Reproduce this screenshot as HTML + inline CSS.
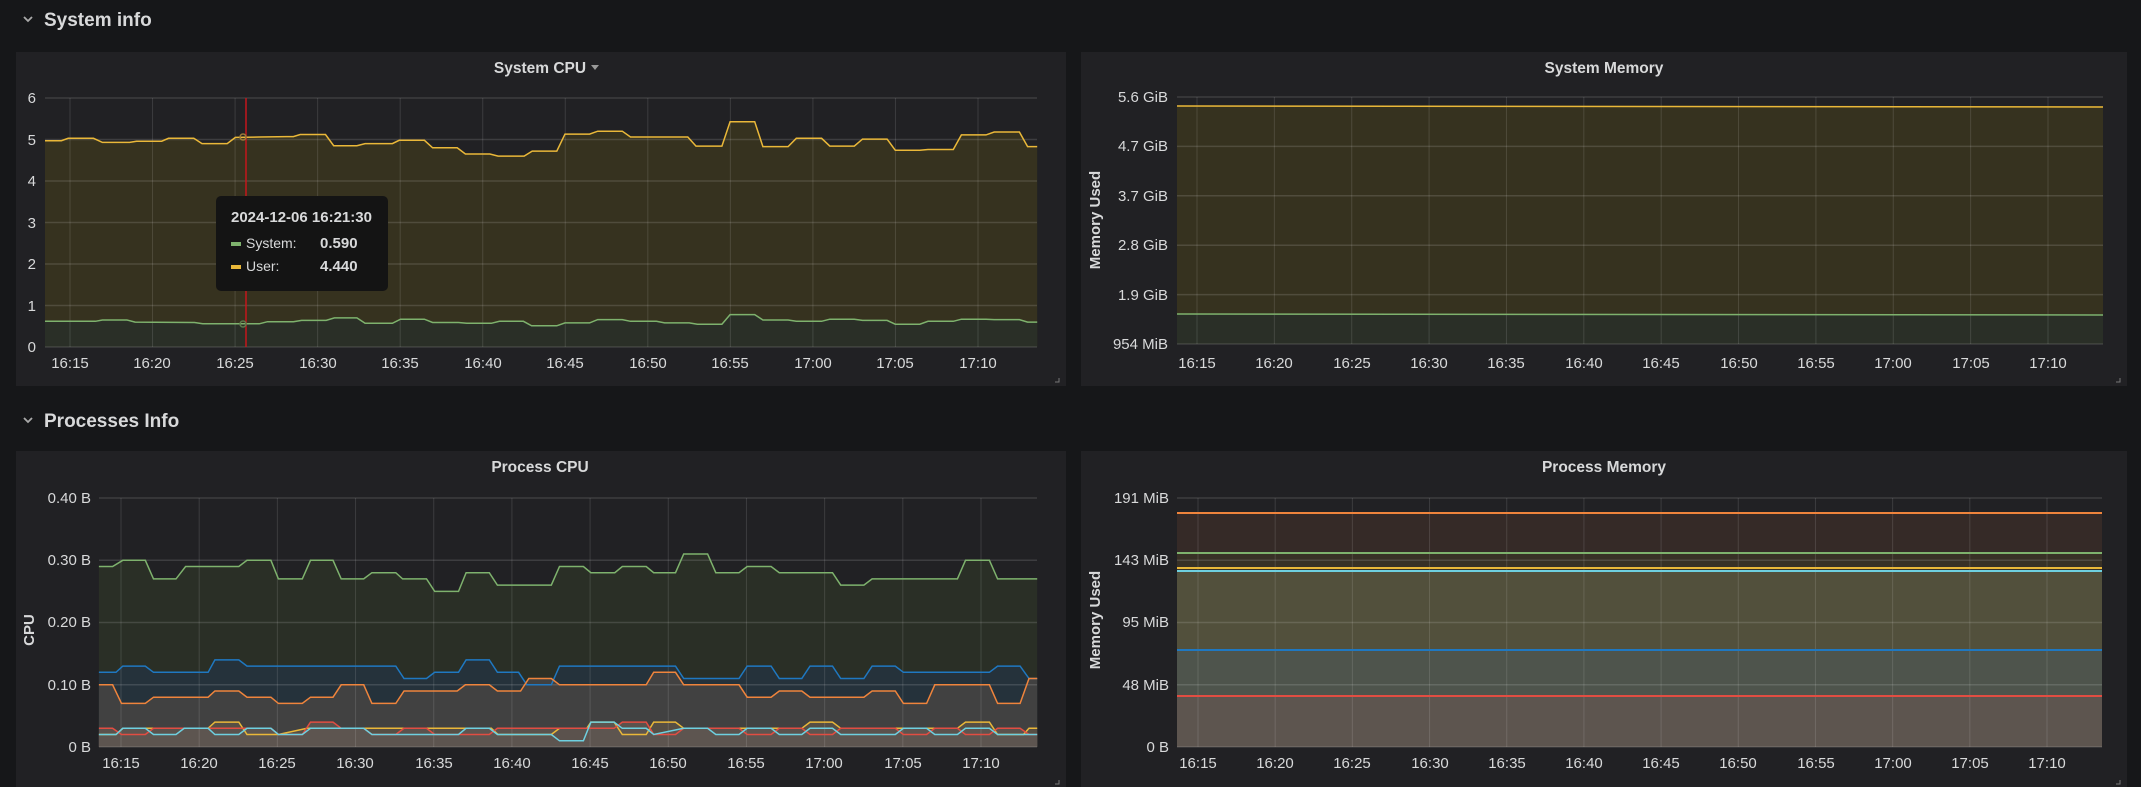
<!DOCTYPE html>
<html><head><meta charset="utf-8">
<style>
html,body{margin:0;padding:0;background:#161719;}
body{width:2141px;height:787px;overflow:hidden;position:relative;font-family:"Liberation Sans",sans-serif;}
svg{position:absolute;left:0;top:0;}
text{font-family:"Liberation Sans",sans-serif;fill:#d8d9da;}
.t{font-size:15px;}
.ttl{font-size:15.5px;font-weight:bold;}
.sec{font-size:19px;font-weight:bold;}
</style></head>
<body>
<svg id="s" width="2141" height="787" viewBox="0 0 2141 787">
<rect x="16" y="52" width="1050" height="334" fill="#212124"/>
<rect x="1081" y="52" width="1046" height="334" fill="#212124"/>
<rect x="16" y="451" width="1050" height="340" fill="#212124"/>
<rect x="1081" y="451" width="1046" height="340" fill="#212124"/>
<g id="g"></g>
<path d="M24 17 l4 4 l4 -4" stroke="#aaa" stroke-width="1.8" fill="none"/>
<text class="sec" x="44" y="26">System info</text>
<path d="M24 418 l4 4 l4 -4" stroke="#aaa" stroke-width="1.8" fill="none"/>
<text class="sec" x="44" y="427">Processes Info</text>
<text class="ttl" x="540" y="73" text-anchor="middle">System CPU</text>
<path d="M591 65 l8 0 l-4 5z" fill="#999"/>
<text class="ttl" x="1604" y="73" text-anchor="middle">System Memory</text>
<text class="ttl" x="540" y="472" text-anchor="middle">Process CPU</text>
<text class="ttl" x="1604" y="472" text-anchor="middle">Process Memory</text>
<g class="t" text-anchor="end">
<text x="36" y="103">6</text><text x="36" y="145">5</text><text x="36" y="186">4</text><text x="36" y="228">3</text><text x="36" y="269">2</text><text x="36" y="311">1</text><text x="36" y="352">0</text>
<text x="1168" y="102">5.6 GiB</text><text x="1168" y="151">4.7 GiB</text><text x="1168" y="201">3.7 GiB</text><text x="1168" y="250">2.8 GiB</text><text x="1168" y="300">1.9 GiB</text><text x="1168" y="349">954 MiB</text>
<text x="91" y="503">0.40 B</text><text x="91" y="565">0.30 B</text><text x="91" y="627">0.20 B</text><text x="91" y="690">0.10 B</text><text x="91" y="752">0 B</text>
<text x="1169" y="503">191 MiB</text><text x="1169" y="565">143 MiB</text><text x="1169" y="627">95 MiB</text><text x="1169" y="690">48 MiB</text><text x="1169" y="752">0 B</text>
</g>
<g class="t" text-anchor="middle">
<text x="70" y="368">16:15</text><text x="152" y="368">16:20</text><text x="235" y="368">16:25</text><text x="318" y="368">16:30</text><text x="400" y="368">16:35</text><text x="483" y="368">16:40</text><text x="565" y="368">16:45</text><text x="648" y="368">16:50</text><text x="730" y="368">16:55</text><text x="813" y="368">17:00</text><text x="895" y="368">17:05</text><text x="978" y="368">17:10</text>
<text x="1197" y="368">16:15</text><text x="1274" y="368">16:20</text><text x="1352" y="368">16:25</text><text x="1429" y="368">16:30</text><text x="1506" y="368">16:35</text><text x="1584" y="368">16:40</text><text x="1661" y="368">16:45</text><text x="1739" y="368">16:50</text><text x="1816" y="368">16:55</text><text x="1893" y="368">17:00</text><text x="1971" y="368">17:05</text><text x="2048" y="368">17:10</text>
<text x="121" y="768">16:15</text><text x="199" y="768">16:20</text><text x="277" y="768">16:25</text><text x="355" y="768">16:30</text><text x="434" y="768">16:35</text><text x="512" y="768">16:40</text><text x="590" y="768">16:45</text><text x="668" y="768">16:50</text><text x="746" y="768">16:55</text><text x="824" y="768">17:00</text><text x="903" y="768">17:05</text><text x="981" y="768">17:10</text>
<text x="1198" y="768">16:15</text><text x="1275" y="768">16:20</text><text x="1352" y="768">16:25</text><text x="1430" y="768">16:30</text><text x="1507" y="768">16:35</text><text x="1584" y="768">16:40</text><text x="1661" y="768">16:45</text><text x="1738" y="768">16:50</text><text x="1816" y="768">16:55</text><text x="1893" y="768">17:00</text><text x="1970" y="768">17:05</text><text x="2047" y="768">17:10</text>
</g>
<text class="t" font-weight="bold" transform="translate(1100,220) rotate(-90)" text-anchor="middle" fill="#c8c9ca">Memory Used</text>
<text class="t" font-weight="bold" transform="translate(34,630) rotate(-90)" text-anchor="middle" fill="#c8c9ca">CPU</text>
<text class="t" font-weight="bold" transform="translate(1100,620) rotate(-90)" text-anchor="middle" fill="#c8c9ca">Memory Used</text>
<line x1="246" y1="98" x2="246" y2="347" stroke="#c4161c" stroke-width="1.5"/>
<circle cx="243" cy="137" r="3" fill="none" stroke="#9a7a3a" stroke-width="1.5"/>
<circle cx="243" cy="324" r="3" fill="none" stroke="#5e7a4c" stroke-width="1.5"/>
<rect x="216" y="196" width="172" height="95" rx="5" fill="#141414"/>
<text x="231" y="222" font-size="15" font-weight="bold">2024-12-06 16:21:30</text>
<rect x="231" y="242" width="10" height="4" fill="#7eb26d"/>
<text x="246" y="248" font-size="14">System:</text>
<text x="320" y="248" font-size="15" font-weight="bold">0.590</text>
<rect x="231" y="265" width="10" height="4" fill="#eab839"/>
<text x="246" y="271" font-size="14">User:</text>
<text x="320" y="271" font-size="15" font-weight="bold">4.440</text>
<path d="M1059 378 v4 h-4 M2120 378 v4 h-4 M1059 780 v4 h-4 M2120 780 v4 h-4" stroke="#777" fill="none"/>
</svg>
<script>
var g=document.getElementById('g');var NS='http://www.w3.org/2000/svg';
function el(n,a){var e=document.createElementNS(NS,n);for(var k in a)e.setAttribute(k,a[k]);g.appendChild(e);return e;}
function grid(x0,x1,y0,y1,ys,xs){ys.forEach(function(y){el('line',{x1:x0,x2:x1,y1:y,y2:y,stroke:'rgba(255,255,255,0.13)','stroke-width':1.5});});
xs.forEach(function(x){el('line',{x1:x,x2:x,y1:y0,y2:y1,stroke:'rgba(255,255,255,0.12)','stroke-width':1});});}
function series(pts,sx,ox,vy,base,col,fill){var d='';pts.forEach(function(p,i){d+=(i?'L':'M')+(p[0]/sx+ox).toFixed(1)+' '+vy(p[1]).toFixed(1);});
var f=d+'L'+(pts[pts.length-1][0]/sx+ox).toFixed(1)+' '+base+'L'+(pts[0][0]/sx+ox).toFixed(1)+' '+base+'Z';
if(fill)el('path',{d:f,fill:fill});return [d,col];}
function P(a){var r=[];for(var i=0;i<a.length;i+=2)r.push([a[i],a[i+1]]);return r;}
var SX=1.4655;
function seq(a,b,n){var r=[];for(var i=0;i<n;i++)r.push(a+(b-a)*i/(n-1));return r;}
var vy1=function(v){return 347-v*41.5;};
var user=P([66,4.97,90,4.97,100,5.03,137,5.03,150,4.93,190,4.93,200,4.96,237,4.96,247,5.03,284,5.03,296,4.9,333,4.9,345,5.05,380,5.06,420,5.07,430,5.07,440,5.12,477,5.12,489,4.85,523,4.85,535,4.9,575,4.9,585,4.98,622,4.98,634,4.8,670,4.8,682,4.65,718,4.65,730,4.6,768,4.6,780,4.72,816,4.72,828,5.13,864,5.13,876,5.2,912,5.2,924,5.06,1008,5.06,1020,4.84,1058,4.84,1070,5.43,1106,5.43,1118,4.83,1155,4.83,1167,5.03,1204,5.03,1216,4.84,1252,4.84,1264,5.01,1300,5.01,1312,4.74,1348,4.74,1360,4.76,1397,4.76,1409,5.11,1445,5.11,1457,5.18,1494,5.18,1506,4.83,1520,4.83]);
var sys=P([66,.62,140,.62,150,.65,186,.65,198,.6,285,.59,297,.56,346,.56,380,.56,392,.61,430,.61,442,.64,478,.64,490,.7,523,.7,535,.57,575,.57,587,.67,622,.67,634,.59,672,.59,684,.57,720,.57,732,.62,767,.62,779,.51,816,.51,828,.58,864,.58,876,.66,912,.66,924,.62,962,.62,974,.58,1010,.58,1022,.55,1058,.55,1070,.78,1106,.78,1118,.65,1155,.65,1167,.62,1204,.62,1216,.67,1252,.67,1264,.64,1300,.64,1312,.55,1348,.55,1360,.62,1397,.62,1409,.67,1445,.67,1457,.66,1494,.66,1506,.6,1520,.6]);
var L=[];
L.push(series(user,SX,0,vy1,347,'#eab839','#36321f'));
L.push(series(sys,SX,0,vy1,347,'#7eb26d','#2a2f27'));
grid(45,1037,98,347,seq(98,347,7),seq(70,978,12));
L.forEach(function(l){el('path',{d:l[0],stroke:l[1],'stroke-width':1.5,fill:'none'});});
el('rect',{x:1177,y:106,width:926,height:238,fill:'#36321f'});
el('rect',{x:1177,y:314,width:926,height:30,fill:'#2a2f27'});
grid(1177,2103,97,344,seq(97,344,6),seq(1197,2048,12));
el('line',{x1:1177,x2:2103,y1:106,y2:107,stroke:'#eab839','stroke-width':1.5});
el('line',{x1:1177,x2:2103,y1:314,y2:315,stroke:'#7eb26d','stroke-width':1.5});
var vy3=function(v){return 747-v*622.5;};var b3=747;
var green=P([145,.29,165,.29,180,.30,213,.30,225,.27,258,.27,272,.29,350,.29,362,.30,397,.30,408,.27,443,.27,455,.30,488,.30,500,.27,533,.27,545,.28,580,.28,590,.27,625,.27,637,.25,672,.25,683,.28,717,.28,729,.26,808,.26,820,.29,855,.29,866,.28,901,.28,912,.29,947,.29,958,.28,990,.28,1002,.31,1037,.31,1049,.28,1083,.28,1095,.29,1130,.29,1142,.28,1220,.28,1232,.26,1266,.26,1278,.27,1403,.27,1415,.30,1450,.30,1462,.27,1520,.27]);
var blue=P([145,.12,170,.12,180,.13,213,.13,225,.12,305,.12,315,.14,350,.14,362,.13,580,.13,592,.11,625,.11,637,.12,672,.12,683,.14,717,.14,729,.12,760,.12,772,.10,808,.10,820,.13,990,.13,1002,.11,1083,.11,1095,.13,1130,.13,1142,.11,1175,.11,1187,.13,1220,.13,1232,.11,1266,.11,1278,.13,1312,.13,1324,.12,1450,.12,1462,.13,1495,.13,1508,.11,1520,.11]);
var orange=P([145,.10,165,.10,178,.07,213,.07,225,.08,305,.08,315,.09,350,.09,362,.08,397,.08,408,.07,443,.07,455,.08,488,.08,500,.10,533,.10,545,.07,580,.07,592,.09,670,.09,682,.10,717,.10,729,.09,763,.09,775,.11,808,.11,820,.10,947,.10,958,.12,990,.12,1002,.10,1083,.10,1095,.08,1130,.08,1142,.09,1175,.09,1187,.08,1266,.08,1278,.09,1312,.09,1324,.07,1358,.07,1370,.10,1450,.10,1462,.07,1495,.07,1508,.11,1520,.11]);
var yel=P([145,.02,170,.02,180,.03,305,.03,315,.04,350,.04,362,.02,397,.02,408,.02,450,.03,720,.03,730,.02,808,.02,820,.03,860,.03,866,.04,900,.04,912,.02,947,.02,958,.04,990,.04,1002,.03,1175,.03,1187,.04,1220,.04,1232,.03,1403,.03,1415,.04,1450,.04,1462,.02,1500,.02,1508,.03,1520,.03]);
var red=P([145,.03,165,.03,178,.02,213,.02,225,.03,397,.03,408,.02,443,.02,455,.04,488,.04,500,.03,533,.03,545,.02,580,.02,592,.03,625,.03,637,.02,717,.02,729,.03,900,.03,912,.04,947,.04,958,.02,990,.02,1002,.03,1083,.03,1095,.02,1130,.02,1142,.03,1175,.03,1187,.02,1220,.02,1232,.03,1312,.03,1324,.02,1358,.02,1370,.03,1403,.03,1415,.02,1450,.02,1462,.03,1495,.03,1508,.02,1520,.02]);
var cy=P([145,.02,170,.02,180,.03,213,.03,225,.02,258,.02,270,.03,305,.03,315,.02,350,.02,362,.03,397,.03,408,.02,443,.02,455,.03,533,.03,545,.02,672,.02,683,.03,717,.03,729,.02,808,.02,820,.01,855,.01,866,.04,900,.04,912,.03,947,.03,958,.02,1002,.03,1037,.03,1049,.02,1083,.02,1095,.03,1130,.03,1142,.02,1175,.02,1187,.03,1220,.03,1232,.02,1312,.02,1324,.03,1358,.03,1370,.02,1403,.02,1415,.03,1450,.03,1462,.02,1520,.02]);
L=[];
L.push(series(green,SX,0,vy3,b3,'#7eb26d','#2a2f26'));
L.push(series(blue,SX,0,vy3,b3,'#1f78c1','#25323b'));
L.push(series(orange,SX,0,vy3,b3,'#ef843c','#414141'));
L.push(series(yel,SX,0,vy3,b3,'#eab839','#564f45'));
L.push(series(red,SX,0,vy3,b3,'#e24d42','#5b524d'));
L.push(series(cy,SX,0,vy3,b3,'#6ed0e0','#5d5550'));
grid(99,1037,498,747,seq(498,747,5),seq(121,981,12));
L.forEach(function(l){el('path',{d:l[0],stroke:l[1],'stroke-width':1.5,fill:'none'});});
[[513,553,'#352a27'],[553,570,'#383126'],[570,650,'#52503c'],[650,696,'#4e544c'],[696,747,'#5d554f']].forEach(function(r){el('rect',{x:1177,y:r[0],width:925,height:r[1]-r[0],fill:r[2]});});
grid(1177,2102,498,747,seq(498,747,5),seq(1198,2047,12));
[[513,'#ef843c'],[553,'#7eb26d'],[568,'#eab839'],[571,'#6ed0e0'],[650,'#1f78c1'],[696,'#e24d42']].forEach(function(l){el('line',{x1:1177,x2:2102,y1:l[0],y2:l[0],stroke:l[1],'stroke-width':2});});
</script>
</body></html>
